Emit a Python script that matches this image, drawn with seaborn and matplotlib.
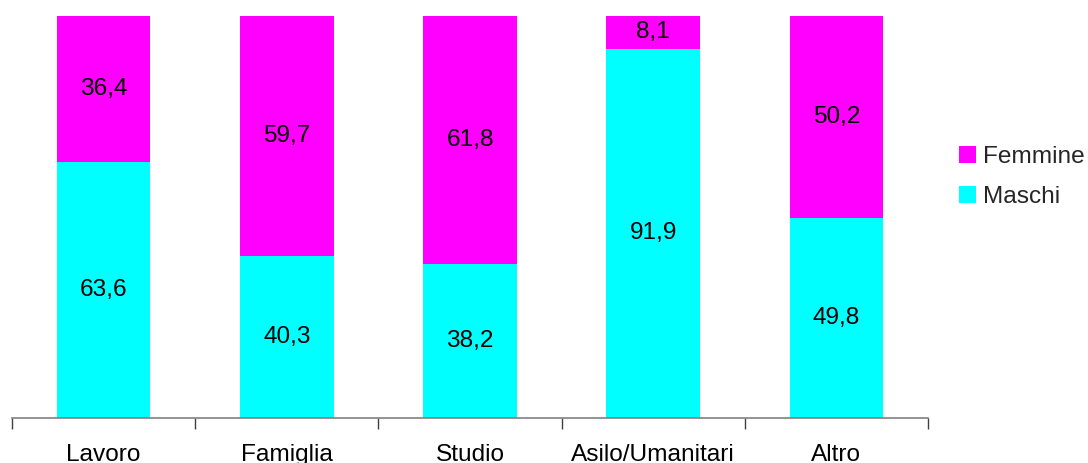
import matplotlib
matplotlib.use("Agg")
import matplotlib.pyplot as plt
from matplotlib.patches import Patch
import seaborn as sns
import pandas as pd

categorie = ["Lavoro", "Famiglia", "Studio", "Asilo/Umanitari", "Altro"]
maschi = [63.6, 40.3, 38.2, 91.9, 49.8]
femmine = [36.4, 59.7, 61.8, 8.1, 50.2]

COL_M = "#00FFFF"
COL_F = "#FF00FF"

sns.set_theme(style="white")
plt.rcParams["font.family"] = ["Liberation Sans", "DejaVu Sans"]
FS = 17.6

df = pd.DataFrame({"categoria": categorie, "Maschi": maschi, "Femmine": femmine})
df["totale"] = df["Maschi"] + df["Femmine"]

fig = plt.figure(figsize=(10.88, 4.63), dpi=100)
ax = fig.add_axes([12 / 1088, 45 / 463, 916 / 1088, 402 / 463])

# stacked bars: total (Femmine on top) drawn first, Maschi over it
sns.barplot(data=df, x="categoria", y="totale", color=COL_F, saturation=1,
            width=0.51, linewidth=0, ax=ax)
sns.barplot(data=df, x="categoria", y="Maschi", color=COL_M, saturation=1,
            width=0.51, linewidth=0, ax=ax)

for i, (m, f) in enumerate(zip(maschi, femmine)):
    ax.text(i, m / 2, f"{m:.1f}".replace(".", ","), ha="center", va="center",
            fontsize=FS, color="black")
    ax.text(i, m + f / 2, f"{f:.1f}".replace(".", ","), ha="center", va="center",
            fontsize=FS, color="black")

ax.set_xlim(-0.5, len(categorie) - 0.5)
ax.set_ylim(0, 100)
ax.set_xlabel("")
ax.set_ylabel("")
ax.set_yticks([])

for s in ["top", "right", "left"]:
    ax.spines[s].set_visible(False)
ax.spines["bottom"].set_color("#808080")
ax.spines["bottom"].set_linewidth(1.2)

ax.set_xticks(range(len(categorie)))
ax.set_xticklabels(categorie, fontsize=FS, color="black")
ax.set_xticks([i - 0.5 for i in range(len(categorie) + 1)], minor=True)
ax.tick_params(axis="x", which="major", length=0, pad=19)
ax.tick_params(axis="x", which="minor", length=8, width=1, color="#404040",
               direction="out", bottom=True)

handles = [Patch(facecolor=COL_F, edgecolor="none", label="Femmine"),
           Patch(facecolor=COL_M, edgecolor="none", label="Maschi")]
fig.legend(handles=handles, loc="center left", bbox_to_anchor=(959 / 1088, 1 - 177 / 463),
           frameon=False, fontsize=FS, handlelength=0.7, handleheight=0.7,
           handletextpad=0.3, labelspacing=0.75, borderpad=0, borderaxespad=0)

fig.savefig("out.png", dpi=100)
